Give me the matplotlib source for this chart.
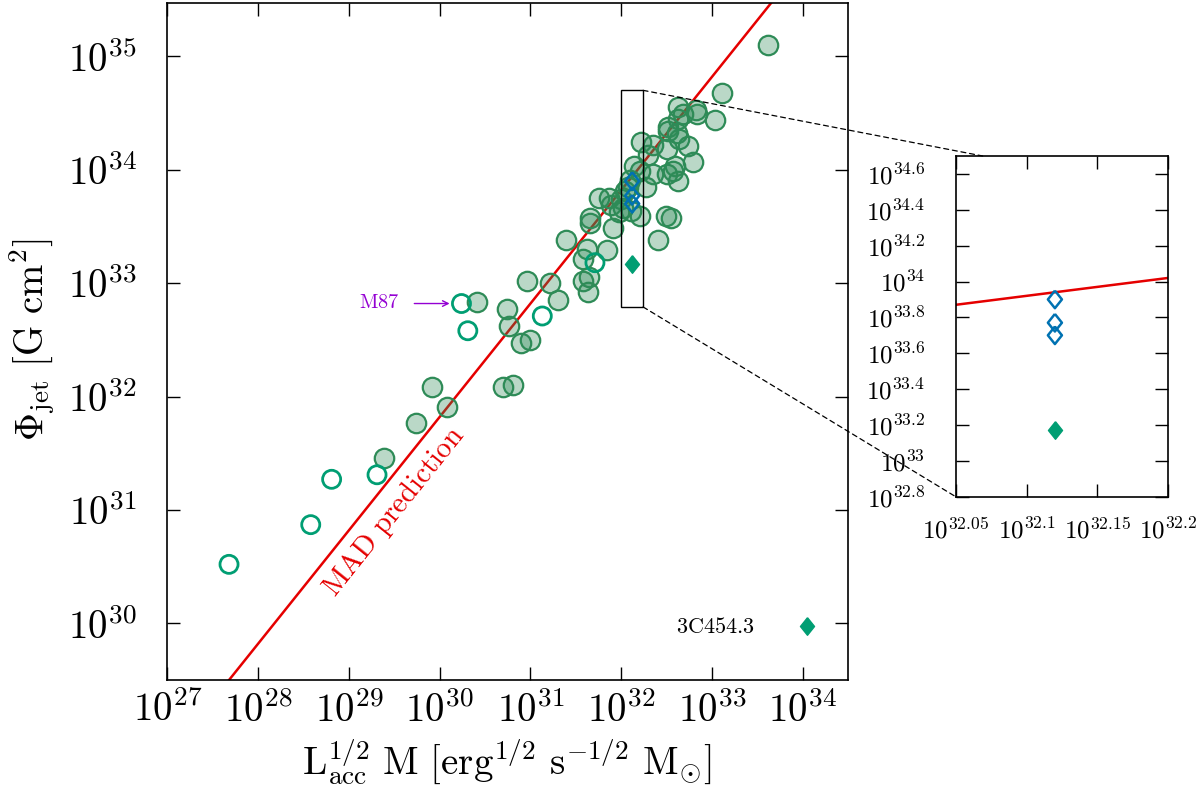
import matplotlib.pyplot as plt
import numpy as np
from matplotlib.patches import Rectangle, ConnectionPatch
from matplotlib.ticker import NullLocator

plt.rcParams['mathtext.fontset'] = 'cm'
plt.rcParams['font.family'] = ['DejaVu Serif']
plt.rcParams['axes.linewidth'] = 1.2

# all values are log10
filled_x = [29.74, 29.39, 29.92, 30.08, 30.41, 30.74, 30.76, 30.90, 30.99, 30.70,
            30.81, 30.96, 31.22, 31.30, 31.39, 31.58, 31.64, 31.58, 31.63, 31.62,
            31.84, 31.66, 31.65, 31.91, 31.75, 31.86, 31.89, 31.97, 32.00, 32.02,
            32.11, 32.21, 32.04, 32.07, 32.10, 32.14, 32.21, 32.22, 32.35, 32.29,
            32.27, 32.35, 32.40, 32.49, 32.55, 32.50, 32.57, 32.59, 32.63, 32.79,
            32.50, 32.74, 32.64, 32.61, 32.52, 32.51, 32.62, 32.63, 32.68, 32.82,
            32.83, 33.03, 33.11, 33.62]
filled_y = [31.77, 31.46, 32.08, 31.91, 32.83, 32.77, 32.62, 32.47, 32.50, 32.08,
            32.10, 33.02, 33.00, 32.85, 33.38, 33.21, 33.05, 33.02, 32.92, 33.30,
            33.29, 33.57, 33.53, 33.49, 33.75, 33.75, 33.69, 33.63, 33.74, 33.66,
            33.64, 33.59, 33.81, 33.85, 33.91, 34.03, 33.99, 34.24, 34.22, 34.13,
            33.85, 33.96, 33.38, 33.59, 33.57, 33.96, 33.99, 34.03, 33.90, 34.07,
            34.18, 34.21, 34.27, 34.32, 34.34, 34.38, 34.45, 34.55, 34.49, 34.53,
            34.49, 34.44, 34.68, 35.10]
open_x = [27.68, 28.58, 28.81, 29.31, 30.24, 30.31, 31.13, 31.71]
open_y = [30.52, 30.87, 31.27, 31.31, 32.82, 32.58, 32.71, 33.18]
blue_x = [32.12, 32.12, 32.12]
blue_y = [33.90, 33.77, 33.70]
green_x = [32.12, 34.04]
green_y = [33.17, 29.98]
mad_offset = 1.82  # MAD prediction: log Phi = log(L^1/2 M) + offset

main_xticks = list(range(27, 35))
main_yticks = list(range(30, 36))
inset_xticks = [32.05, 32.1, 32.15, 32.2]
inset_xlabels = ['32.05', '32.1', '32.15', '32.2']
inset_yticks = [32.8, 33.0, 33.2, 33.4, 33.6, 33.8, 34.0, 34.2, 34.4, 34.6]
inset_ylabels = ['32.8', '33', '33.2', '33.4', '33.6', '33.8', '34', '34.2', '34.4', '34.6']

sea = '#2e8b57'
teal = '#009e73'
blue = '#0072b2'
red = '#e50000'
diamond = [(0, 1), (0.8, 0), (0, -1), (-0.8, 0), (0, 1)]

fig = plt.figure(figsize=(12, 7.91), dpi=100)
ax = fig.add_axes([0.1394, 0.1403, 0.5675, 0.8559])
ax.set_xscale('log')
ax.set_yscale('log')
ax.set_xlim(1e27, 10**34.5)
ax.set_ylim(10**29.5, 10**35.47)

lx = np.array([27.0, 34.5])
ax.plot(10**lx, 10**(lx + mad_offset), color=red, lw=1.8, zorder=1)

fx = 10**np.array(filled_x)
fy = 10**np.array(filled_y)
ax.scatter(fx, fy, s=14**2, facecolors=[(46/255, 139/255, 87/255, 0.33)],
           edgecolors=sea, linewidths=1.6, zorder=2)
ax.scatter(10**np.array(open_x), 10**np.array(open_y), s=13**2, facecolors='none',
           edgecolors=teal, linewidths=2.0, zorder=3)
ax.scatter(10**np.array(blue_x), 10**np.array(blue_y), s=160, marker=diamond,
           facecolors='none', edgecolors=blue, linewidths=1.8, zorder=4)
ax.scatter(10**np.array(green_x), 10**np.array(green_y), s=160, marker=diamond,
           color=teal, zorder=4)

# zoom box
bx0, bx1, by0, by1 = 32.0, 32.24, 32.79, 34.70
ax.add_patch(Rectangle((10**bx0, 10**by0), 10**bx1 - 10**bx0, 10**by1 - 10**by0,
                       fill=False, ec='k', lw=1.0, zorder=5))

ax.text(10**29.33, 10**32.83, r'$\mathrm{M87}$', color='#9400d3', fontsize=14.5,
        ha='center', va='center')
ax.annotate('', xy=(10**30.14, 10**32.82), xytext=(10**29.69, 10**32.82),
            arrowprops=dict(arrowstyle='->', color='#9400d3', lw=1.0))
ax.text(10**33.04, 10**29.97, r'$\mathrm{3C454.3}$', fontsize=16,
        ha='center', va='center')
ax.text(10**29.50, 10**30.98, r'$\mathrm{MAD\ prediction}$', color=red, fontsize=21,
        rotation=51.3, ha='center', va='center', rotation_mode='anchor')

ax.set_xticks(10.0**np.array(main_xticks))
ax.set_xticklabels([r'$10^{%d}$' % n for n in main_xticks])
ax.set_yticks(10.0**np.array(main_yticks))
ax.set_yticklabels([r'$10^{%d}$' % n for n in main_yticks])
ax.xaxis.set_minor_locator(NullLocator())
ax.yaxis.set_minor_locator(NullLocator())
ax.tick_params(direction='in', length=9.5, width=1.0, top=True, right=True,
               labelsize=28)
ax.tick_params(axis='x', pad=8)
ax.tick_params(axis='y', pad=22)

fig.text(32/1200, 1 - 340/791, r'$\Phi_{\rm jet}\ [\rm G\ cm^2]$', fontsize=28,
         rotation=90, ha='center', va='center')
fig.text(507/1200, 1 - 762/791,
         r'$\rm L_{acc}^{1/2}\ M\ [erg^{1/2}\ s^{-1/2}\ M_{\odot}]$',
         fontsize=28, ha='center', va='center')

# inset
axin = fig.add_axes([0.7964, 0.3721, 0.1772, 0.4307])
axin.set_xlim(32.05, 32.2)
axin.set_ylim(32.8, 34.7)
ix = np.array([32.05, 32.2])
axin.plot(ix, ix + mad_offset, color=red, lw=1.8)
axin.scatter(blue_x, blue_y, s=160, marker=diamond, facecolors='none',
             edgecolors=blue, linewidths=1.8, zorder=3)
axin.scatter(green_x[:1], green_y[:1], s=160, marker=diamond, color=teal, zorder=3)
axin.set_xticks(inset_xticks)
axin.set_xticklabels([r'$10^{%s}$' % s for s in inset_xlabels])
axin.set_yticks(inset_yticks)
axin.set_yticklabels([r'$10^{%s}$' % s for s in inset_ylabels])
axin.tick_params(direction='in', length=9.5, width=1.0, top=True, right=True,
                 labelsize=18)
axin.tick_params(axis='x', pad=15)
axin.tick_params(axis='y', pad=22)

for xyA, xyB in [((10**bx1, 10**by1), (32.069, 34.7)),
                 ((10**bx1, 10**by0), (32.05, 32.8))]:
    con = ConnectionPatch(xyA=xyA, coordsA=ax.transData, xyB=xyB,
                          coordsB=axin.transData, ls=(0, (4, 3)), lw=0.9, color='k')
    fig.add_artist(con)

fig.savefig('out.png', dpi=100)
